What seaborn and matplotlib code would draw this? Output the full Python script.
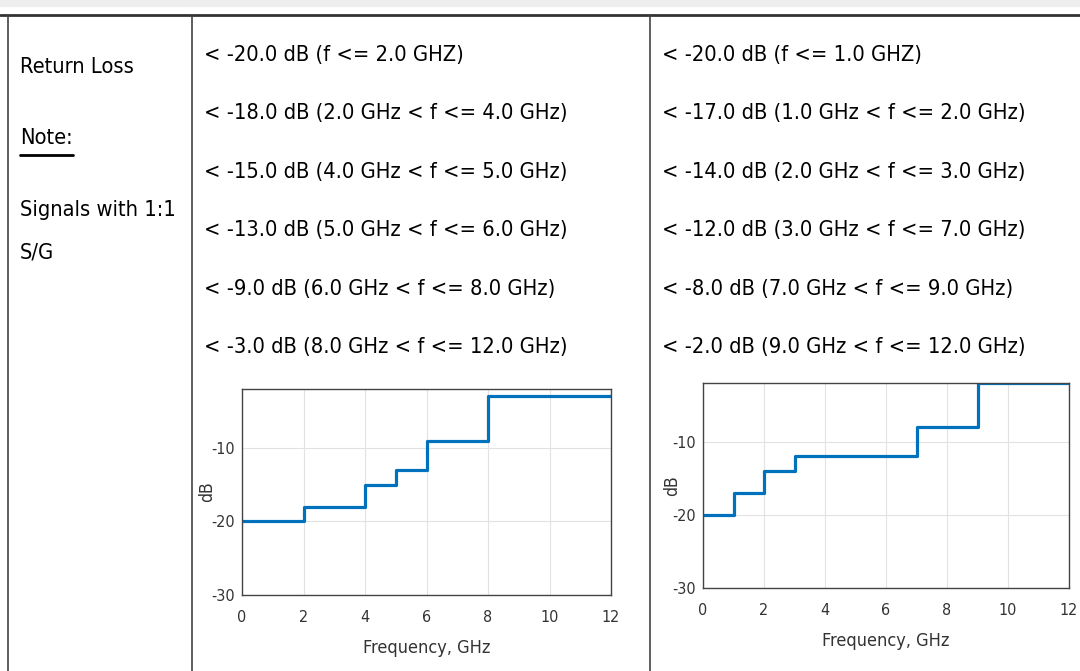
import matplotlib
matplotlib.use("Agg")
import matplotlib.pyplot as plt
from matplotlib.lines import Line2D
from matplotlib import font_manager as fm
import seaborn as sns
import pandas as pd

# ---- data ----
left_edges = [0, 2, 4, 5, 6, 8, 12]
left_db = [-20, -18, -15, -13, -9, -3]
right_edges = [0, 1, 2, 3, 7, 9, 12]
right_db = [-20, -17, -14, -12, -8, -2]

row_label = "Return Loss"
note_label = "Note:"
note_text = ["Signals with 1:1", "S/G"]

left_specs = [
    "< -20.0 dB (f <= 2.0 GHZ)",
    "< -18.0 dB (2.0 GHz < f <= 4.0 GHz)",
    "< -15.0 dB (4.0 GHz < f <= 5.0 GHz)",
    "< -13.0 dB (5.0 GHz < f <= 6.0 GHz)",
    "< -9.0 dB (6.0 GHz < f <= 8.0 GHz)",
    "< -3.0 dB (8.0 GHz < f <= 12.0 GHz)",
]
right_specs = [
    "< -20.0 dB (f <= 1.0 GHZ)",
    "< -17.0 dB (1.0 GHz < f <= 2.0 GHz)",
    "< -14.0 dB (2.0 GHz < f <= 3.0 GHz)",
    "< -12.0 dB (3.0 GHz < f <= 7.0 GHz)",
    "< -8.0 dB (7.0 GHz < f <= 9.0 GHz)",
    "< -2.0 dB (9.0 GHz < f <= 12.0 GHz)",
]
x_ticks = [0, 2, 4, 6, 8, 10, 12]
y_ticks = [-30, -20, -10]
x_label = "Frequency, GHz"
y_label = "dB"

sns.set_theme(style="white")
plt.rcParams["font.family"] = ["Liberation Sans", "DejaVu Sans"]
plt.rcParams["axes.unicode_minus"] = False

# pick a condensed / narrow font if one is installed
narrow = None
for e in fm.fontManager.ttflist:
    key = (e.name + " " + e.fname).lower()
    if ("narrow" in key or "condensed" in key) and e.style == "normal" \
            and str(e.weight) in ("400", "normal", "regular", "book") \
            and "bold" not in key and "light" not in key and "semi" not in key \
            and "oblique" not in key and "italic" not in key:
        if narrow is None or "liberation" in key:
            narrow = e.fname
if narrow:
    FP = fm.FontProperties(fname=narrow)
else:
    FP = fm.FontProperties(family=["Liberation Sans", "DejaVu Sans"])

W, H = 1080, 671
fig = plt.figure(figsize=(W / 100, H / 100), dpi=100)
fig.patch.set_facecolor("white")
renderer = fig.canvas.get_renderer()


def fx(x):
    return x / W


def fy(y):
    return 1 - y / H


def fit_size(s, target_px, max_size):
    t = fig.text(0, 0, s, fontproperties=FP, fontsize=20)
    w = t.get_window_extent(renderer).width
    t.remove()
    return min(max_size, 20 * target_px / w)


def hline(x0, x1, y, lw=1.5, color="#333333"):
    fig.add_artist(Line2D([fx(x0), fx(x1)], [fy(y), fy(y)], lw=lw, color=color,
                          transform=fig.transFigure))


def vline(x, y0, y1, lw=1.5, color="#333333"):
    fig.add_artist(Line2D([fx(x), fx(x)], [fy(y0), fy(y1)], lw=lw, color=color,
                          transform=fig.transFigure))


# grey band at very top
fig.add_artist(plt.Rectangle((0, fy(6)), 1, 6 / H, transform=fig.transFigure,
                             color="#eeeeee", zorder=0))
hline(0, W, 15, lw=2)
vline(8, 15, H, lw=1.2, color="#444444")
vline(192, 15, H, lw=1.2, color="#444444")
vline(650, 15, H, lw=1.2, color="#444444")

TS = fit_size(left_specs[1], 362, 22)
TXT = dict(fontproperties=FP, fontsize=TS, va="center", ha="left", color="#000000")

fig.text(fx(20), fy(67), row_label, **TXT)
tn = fig.text(fx(20), fy(138), note_label, **TXT)
nw = tn.get_window_extent(renderer).width
hline(20, 20 + nw, 155, lw=2, color="black")
fig.text(fx(20), fy(210), note_text[0], **TXT)
fig.text(fx(20), fy(252), note_text[1], **TXT)

ys = [55, 113, 172, 230, 289, 347]
for s, y in zip(left_specs, ys):
    fig.text(fx(204), fy(y), s, **TXT)
for s, y in zip(right_specs, ys):
    fig.text(fx(662), fy(y), s, **TXT)

TICK = 11.5


def step_plot(rect, edges, vals, ylab_x, xlab_y):
    ax = fig.add_axes(rect)
    df = pd.DataFrame({"f": edges, "db": vals + [vals[-1]]})
    sns.lineplot(data=df, x="f", y="db", ax=ax, drawstyle="steps-post",
                 color="#0072BD", lw=2.3, estimator=None, sort=False)
    ax.set_xlim(0, 12)
    ax.set_ylim(-30, -2)
    ax.set_xticks(x_ticks)
    ax.set_yticks(y_ticks)
    ax.set_xticklabels([str(v) for v in x_ticks])
    ax.set_yticklabels([str(v) for v in y_ticks])
    for lab in ax.get_xticklabels() + ax.get_yticklabels():
        lab.set_fontproperties(FP)
        lab.set_fontsize(TICK)
    ax.grid(True, color="#e2e2e2", lw=0.8)
    for sp in ax.spines.values():
        sp.set_color("#444444")
        sp.set_linewidth(1.0)
    ax.tick_params(direction="in", length=3, colors="#444444",
                   labelcolor="#333333")
    ax.tick_params(axis="x", pad=11)
    ax.tick_params(axis="y", pad=5)
    ax.set_xlabel("")
    ax.set_ylabel("")
    bb = ax.get_position()
    fig.text(fx(ylab_x), (bb.y0 + bb.y1) / 2, y_label, rotation=90,
             fontproperties=FP, fontsize=12.5,
             va="center", ha="center", color="#333333")
    fig.text((bb.x0 + bb.x1) / 2, fy(xlab_y), x_label, fontproperties=FP,
             fontsize=13,
             va="center", ha="center", color="#333333")
    return ax


step_plot([fx(242), fy(595), (611 - 242) / W, (595 - 389) / H], left_edges, left_db, 207, 648)
step_plot([fx(703), fy(588), (1069 - 703) / W, (588 - 383) / H], right_edges, right_db, 672, 641)

fig.savefig("out.png", dpi=100, facecolor="white")
